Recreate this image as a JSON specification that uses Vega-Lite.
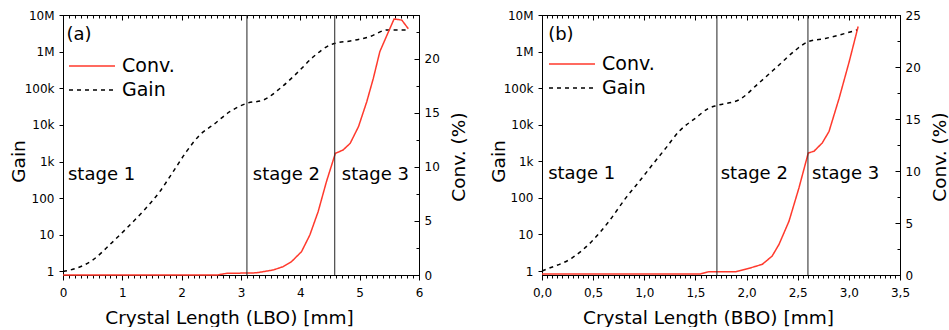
{
  "$schema": "https://vega.github.io/schema/vega-lite/v6.json",
  "background": "white",
  "padding": {"left": 8, "top": 8, "right": 0, "bottom": 0},
  "spacing": 20,
  "datasets": {
    "gainA": [{"x":0,"gain":1.0},{"x":0.23,"gain":1.23},{"x":0.51,"gain":2.1},{"x":0.79,"gain":5.4},{"x":1.07,"gain":15},{"x":1.35,"gain":44},{"x":1.63,"gain":150},{"x":1.86,"gain":540},{"x":2.08,"gain":1860},{"x":2.31,"gain":5400},{"x":2.53,"gain":10000},{"x":2.81,"gain":22900},{"x":3.1,"gain":38900},{"x":3.38,"gain":47900},{"x":3.66,"gain":100000},{"x":3.94,"gain":257000},{"x":4.22,"gain":724000},{"x":4.5,"gain":1510000},{"x":4.59,"gain":1700000},{"x":4.84,"gain":1950000},{"x":5.17,"gain":2570000},{"x":5.46,"gain":3890000},{"x":5.82,"gain":3890000}],
    "convA": [{"x":0,"conv":0},{"x":2.6,"conv":0},{"x":2.75,"conv":0.15},{"x":3.26,"conv":0.2},{"x":3.54,"conv":0.46},{"x":3.71,"conv":0.77},{"x":3.85,"conv":1.23},{"x":4.02,"conv":2.16},{"x":4.16,"conv":3.7},{"x":4.3,"conv":5.86},{"x":4.44,"conv":8.64},{"x":4.59,"conv":11.26},{"x":4.72,"conv":11.57},{"x":4.84,"conv":12.19},{"x":4.98,"conv":13.73},{"x":5.12,"conv":16.05},{"x":5.23,"conv":18.2},{"x":5.34,"conv":20.68},{"x":5.46,"conv":22.2},{"x":5.58,"conv":23.7},{"x":5.71,"conv":23.6},{"x":5.82,"conv":22.8}],
    "stagesA": [{"x":3.1},{"x":4.58}],
    "labelsA": [{"label":"(a)","x":0.06,"y":22.25},{"label":"stage 1","x":0.084,"y":9.3},{"label":"stage 2","x":3.2,"y":9.3},{"label":"stage 3","x":4.7,"y":9.3}],
    "gainB": [{"x":0,"gain":1.0},{"x":0.036,"gain":1.1},{"x":0.296,"gain":2.3},{"x":0.49,"gain":6.6},{"x":0.655,"gain":23},{"x":0.82,"gain":100},{"x":0.95,"gain":280},{"x":1.08,"gain":810},{"x":1.21,"gain":2290},{"x":1.34,"gain":6600},{"x":1.5,"gain":15100},{"x":1.63,"gain":28200},{"x":1.714,"gain":33900},{"x":1.926,"gain":47900},{"x":2.12,"gain":138000},{"x":2.32,"gain":437000},{"x":2.48,"gain":1100000},{"x":2.6,"gain":1860000},{"x":2.77,"gain":2290000},{"x":3.08,"gain":3890000}],
    "convB": [{"x":0,"conv":0.1},{"x":1.55,"conv":0.1},{"x":1.62,"conv":0.3},{"x":1.894,"conv":0.32},{"x":2.024,"conv":0.64},{"x":2.154,"conv":1.03},{"x":2.25,"conv":1.82},{"x":2.317,"conv":2.94},{"x":2.415,"conv":5.18},{"x":2.512,"conv":8.37},{"x":2.603,"conv":11.73},{"x":2.659,"conv":11.9},{"x":2.74,"conv":12.7},{"x":2.806,"conv":13.8},{"x":2.905,"conv":17.0},{"x":3.003,"conv":20.5},{"x":3.091,"conv":23.9}],
    "stagesB": [{"x":1.71},{"x":2.6}],
    "labelsB": [{"label":"(b)","x":0.06,"y":23.1},{"label":"stage 1","x":0.06,"y":9.68},{"label":"stage 2","x":1.747,"y":9.68},{"label":"stage 3","x":2.64,"y":9.68}]
  },
  "hconcat": [
    {
      "width": 356,
      "height": 260,
      "layer": [
        {
          "data": {"name": "gainA"},
          "mark": {"type": "line", "strokeWidth": 1.5, "interpolate": "monotone"},
          "encoding": {
            "x": {"field": "x", "type": "quantitative",
              "scale": {"domain": [0, 6], "nice": false, "zero": false},
              "axis": {"orient": "bottom",
                "values": [0,0.1,0.2,0.3,0.4,0.5,0.6,0.7,0.8,0.9,1,1.1,1.2,1.3,1.4,1.5,1.6,1.7,1.8,1.9,2,2.1,2.2,2.3,2.4,2.5,2.6,2.7,2.8,2.9,3,3.1,3.2,3.3,3.4,3.5,3.6,3.7,3.8,3.9,4,4.1,4.2,4.3,4.4,4.5,4.6,4.7,4.8,4.9,5,5.1,5.2,5.3,5.4,5.5,5.6,5.7,5.8,5.9,6],
                "labelExpr": "abs(datum.value - round(datum.value)) < 0.001 ? format(datum.value, 'd') : ''",
                "tickSize": {"condition": {"test": "abs(datum.value - round(datum.value)) < 0.001", "value": 5}, "value": 3},
                "labelPadding": 7, "labelFlush": false, "labelOverlap": false,
                "title": "Crystal Length (LBO) [mm]",
                "titleX": 166, "titleY": 48, "titleBaseline": "alphabetic", "titleAlign": "center"}},
            "y": {"field": "gain", "type": "quantitative",
              "scale": {"type": "log", "domain": [0.8, 10000000], "nice": false},
              "axis": {"orient": "left",
                "values": [1,10,100,1000,10000,100000,1000000,10000000],
                "labelExpr": "datum.value >= 1000000 ? format(datum.value/1000000, 'd') + 'M' : datum.value >= 1000 ? format(datum.value/1000, 'd') + 'k' : format(datum.value, 'd')",
                "tickSize": 4, "labelPadding": 5, "labelFlush": false, "labelOverlap": false,
                "title": "Gain", "titleX": -45, "titleY": 146, "titleAngle": 270, "titleBaseline": "middle", "titleAlign": "center"}},
            "color": {"datum": "Gain", "scale": {"domain": ["Conv.", "Gain"], "range": ["#ff3a2d", "#000000"]},
              "legend": {"orient": "none", "legendX": 5, "legendY": 39, "title": null, "symbolType": "stroke", "symbolSize": 2116, "symbolStrokeWidth": 1.5, "clipHeight": 24, "labelFontSize": 19, "labelOffset": 6, "padding": 0, "rowPadding": 0, "labelColor": "black"}},
            "strokeDash": {"datum": "Gain", "scale": {"domain": ["Conv.", "Gain"], "range": [[1, 0], [4, 4]]},
              "legend": {"orient": "none", "legendX": 5, "legendY": 39, "title": null, "symbolType": "stroke", "symbolSize": 2116, "symbolStrokeWidth": 1.5, "clipHeight": 24, "labelFontSize": 19, "labelOffset": 6, "padding": 0, "rowPadding": 0, "labelColor": "black"}}
          }
        },
        {
          "data": {"name": "convA"},
          "mark": {"type": "line", "strokeWidth": 1.5},
          "encoding": {
            "x": {"field": "x", "type": "quantitative",
              "axis": {"orient": "top",
                "values": [0,0.1,0.2,0.3,0.4,0.5,0.6,0.7,0.8,0.9,1,1.1,1.2,1.3,1.4,1.5,1.6,1.7,1.8,1.9,2,2.1,2.2,2.3,2.4,2.5,2.6,2.7,2.8,2.9,3,3.1,3.2,3.3,3.4,3.5,3.6,3.7,3.8,3.9,4,4.1,4.2,4.3,4.4,4.5,4.6,4.7,4.8,4.9,5,5.1,5.2,5.3,5.4,5.5,5.6,5.7,5.8,5.9,6],
                "labels": false, "title": null,
                "tickSize": {"condition": {"test": "abs(datum.value - round(datum.value)) < 0.001", "value": -5}, "value": -3}}},
            "y": {"field": "conv", "type": "quantitative",
              "scale": {"domain": [0, 24.07], "nice": false, "zero": false},
              "axis": {"orient": "right",
                "values": [0,2.5,5,7.5,10,12.5,15,17.5,20,22.5],
                "labelExpr": "datum.value % 5 == 0 ? format(datum.value, 'd') : ''",
                "tickSize": {"condition": {"test": "datum.value % 5 == 0", "value": -5}, "value": -3},
                "labelPadding": 10, "labelFlush": false, "labelOverlap": false,
                "title": "Conv. (%)", "titleX": 39, "titleY": 141.5, "titleAngle": 270, "titleBaseline": "middle", "titleAlign": "center"}},
            "color": {"datum": "Conv."},
            "strokeDash": {"datum": "Conv."}
          }
        },
        {
          "data": {"name": "stagesA"},
          "mark": {"type": "rule", "color": "#222222", "strokeWidth": 1},
          "encoding": {"x": {"field": "x", "type": "quantitative", "axis": null}}
        },
        {
          "data": {"name": "labelsA"},
          "mark": {"type": "text", "align": "left", "baseline": "middle", "fontSize": 18, "color": "black"},
          "encoding": {
            "x": {"field": "x", "type": "quantitative", "axis": null},
            "y": {"field": "y", "type": "quantitative", "scale": {"domain": [0, 24.07], "nice": false, "zero": false}, "axis": null},
            "text": {"field": "label"}
          }
        }
      ],
      "resolve": {"scale": {"y": "independent"}, "axis": {"x": "independent"}}
    },
    {
      "width": 358,
      "height": 260,
      "layer": [
        {
          "data": {"name": "gainB"},
          "mark": {"type": "line", "strokeWidth": 1.5, "interpolate": "monotone"},
          "encoding": {
            "x": {"field": "x", "type": "quantitative",
              "scale": {"domain": [0, 3.5], "nice": false, "zero": false},
              "axis": {"orient": "bottom",
                "values": [0,0.05,0.1,0.15,0.2,0.25,0.3,0.35,0.4,0.45,0.5,0.55,0.6,0.65,0.7,0.75,0.8,0.85,0.9,0.95,1,1.05,1.1,1.15,1.2,1.25,1.3,1.35,1.4,1.45,1.5,1.55,1.6,1.65,1.7,1.75,1.8,1.85,1.9,1.95,2,2.05,2.1,2.15,2.2,2.25,2.3,2.35,2.4,2.45,2.5,2.55,2.6,2.65,2.7,2.75,2.8,2.85,2.9,2.95,3,3.05,3.1,3.15,3.2,3.25,3.3,3.35,3.4,3.45,3.5],
                "labelExpr": "abs(datum.value*2 - round(datum.value*2)) < 0.001 ? replace(format(datum.value, '.1f'), '.', ',') : ''",
                "tickSize": {"condition": {"test": "abs(datum.value*2 - round(datum.value*2)) < 0.001", "value": 5}, "value": 3},
                "labelPadding": 7, "labelFlush": false, "labelOverlap": false,
                "title": "Crystal Length (BBO) [mm]",
                "titleX": 166, "titleY": 48, "titleBaseline": "alphabetic", "titleAlign": "center"}},
            "y": {"field": "gain", "type": "quantitative",
              "scale": {"type": "log", "domain": [0.78, 10000000], "nice": false},
              "axis": {"orient": "left",
                "values": [1,10,100,1000,10000,100000,1000000,10000000],
                "labelExpr": "datum.value >= 1000000 ? format(datum.value/1000000, 'd') + 'M' : datum.value >= 1000 ? format(datum.value/1000, 'd') + 'k' : format(datum.value, 'd')",
                "tickSize": 4, "labelPadding": 5, "labelFlush": false, "labelOverlap": false,
                "title": "Gain", "titleX": -44, "titleY": 146, "titleAngle": 270, "titleBaseline": "middle", "titleAlign": "center"}},
            "color": {"datum": "Gain", "scale": {"domain": ["Conv.", "Gain"], "range": ["#ff3a2d", "#000000"]},
              "legend": {"orient": "none", "legendX": 6, "legendY": 37, "title": null, "symbolType": "stroke", "symbolSize": 2116, "symbolStrokeWidth": 1.5, "clipHeight": 24, "labelFontSize": 19, "labelOffset": 6, "padding": 0, "rowPadding": 0, "labelColor": "black"}},
            "strokeDash": {"datum": "Gain", "scale": {"domain": ["Conv.", "Gain"], "range": [[1, 0], [4, 4]]},
              "legend": {"orient": "none", "legendX": 6, "legendY": 37, "title": null, "symbolType": "stroke", "symbolSize": 2116, "symbolStrokeWidth": 1.5, "clipHeight": 24, "labelFontSize": 19, "labelOffset": 6, "padding": 0, "rowPadding": 0, "labelColor": "black"}}
          }
        },
        {
          "data": {"name": "convB"},
          "mark": {"type": "line", "strokeWidth": 1.5},
          "encoding": {
            "x": {"field": "x", "type": "quantitative",
              "axis": {"orient": "top",
                "values": [0,0.05,0.1,0.15,0.2,0.25,0.3,0.35,0.4,0.45,0.5,0.55,0.6,0.65,0.7,0.75,0.8,0.85,0.9,0.95,1,1.05,1.1,1.15,1.2,1.25,1.3,1.35,1.4,1.45,1.5,1.55,1.6,1.65,1.7,1.75,1.8,1.85,1.9,1.95,2,2.05,2.1,2.15,2.2,2.25,2.3,2.35,2.4,2.45,2.5,2.55,2.6,2.65,2.7,2.75,2.8,2.85,2.9,2.95,3,3.05,3.1,3.15,3.2,3.25,3.3,3.35,3.4,3.45,3.5],
                "labels": false, "title": null,
                "tickSize": {"condition": {"test": "abs(datum.value*2 - round(datum.value*2)) < 0.001", "value": -5}, "value": -3}}},
            "y": {"field": "conv", "type": "quantitative",
              "scale": {"domain": [0, 25], "nice": false, "zero": false},
              "axis": {"orient": "right",
                "values": [0,2.5,5,7.5,10,12.5,15,17.5,20,22.5,25],
                "labelExpr": "datum.value % 5 == 0 ? format(datum.value, 'd') : ''",
                "tickSize": {"condition": {"test": "datum.value % 5 == 0", "value": -5}, "value": -3},
                "labelPadding": 10, "labelFlush": false, "labelOverlap": false,
                "title": "Conv. (%)", "titleX": 39, "titleY": 141.5, "titleAngle": 270, "titleBaseline": "middle", "titleAlign": "center"}},
            "color": {"datum": "Conv."},
            "strokeDash": {"datum": "Conv."}
          }
        },
        {
          "data": {"name": "stagesB"},
          "mark": {"type": "rule", "color": "#222222", "strokeWidth": 1},
          "encoding": {"x": {"field": "x", "type": "quantitative", "axis": null}}
        },
        {
          "data": {"name": "labelsB"},
          "mark": {"type": "text", "align": "left", "baseline": "middle", "fontSize": 18, "color": "black"},
          "encoding": {
            "x": {"field": "x", "type": "quantitative", "axis": null},
            "y": {"field": "y", "type": "quantitative", "scale": {"domain": [0, 25], "nice": false, "zero": false}, "axis": null},
            "text": {"field": "label"}
          }
        }
      ],
      "resolve": {"scale": {"y": "independent"}, "axis": {"x": "independent"}}
    }
  ],
  "resolve": {"scale": {"color": "independent", "strokeDash": "independent"}},
  "config": {
    "font": "DejaVu Sans",
    "view": {"stroke": "black", "strokeWidth": 1},
    "axis": {"labelFont": "DejaVu Sans", "titleFont": "DejaVu Sans", "labelColor": "black", "titleColor": "black", "domainColor": "black", "tickColor": "black", "grid": false, "titleFontWeight": "normal", "labelFontSize": 12, "titleFontSize": 18.5},
    "legend": {"labelFont": "DejaVu Sans"},
    "text": {"font": "DejaVu Sans"}
  }
}
